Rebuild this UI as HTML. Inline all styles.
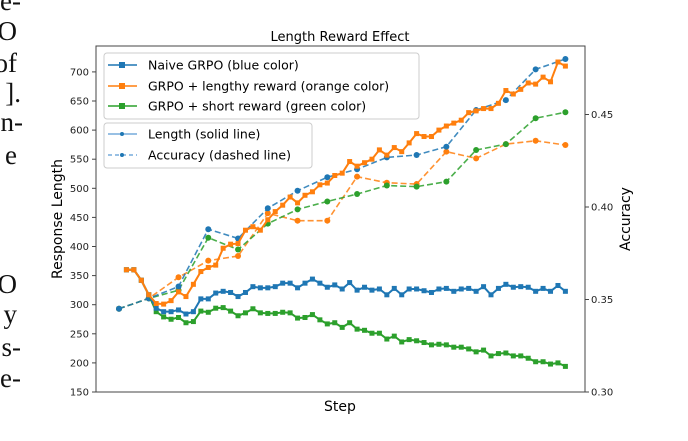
<!DOCTYPE html>
<html><head><meta charset="utf-8"><style>
body{margin:0;background:#fff;}
svg{display:block;font-family:"DejaVu Sans","Liberation Sans",sans-serif;}
</style></head><body>
<svg id="chart" width="688" height="441" viewBox="0 0 688 441" xmlns="http://www.w3.org/2000/svg">
<g font-family="'Liberation Serif',serif" font-size="27" text-anchor="end" fill="#111">
<text x="21" y="10">e-</text>
<text x="17" y="40">O</text>
<text x="17" y="72">of</text>
<text x="21" y="102">].</text>
<text x="23" y="131">n-</text>
<text x="17" y="164">e</text>
<text x="17" y="293">O</text>
<text x="17" y="323">y</text>
<text x="21" y="356">s-</text>
<text x="21" y="387">e-</text>
</g>
<text x="340" y="41" font-size="13" text-anchor="middle" fill="#000">Length Reward Effect</text>
<rect x="96" y="46" width="489" height="346" fill="none" stroke="#444" stroke-width="1"/>
<g id="axes"></g>
<g id="series"></g>
<text x="340" y="411" font-size="14" text-anchor="middle">Step</text>
<text transform="translate(62,219) rotate(-90)" font-size="14" text-anchor="middle">Response Length</text>
<text transform="translate(630,219) rotate(-90)" font-size="14" text-anchor="middle">Accuracy</text>
<g>
<rect x="104" y="53" width="315" height="66" rx="3" fill="#fff" fill-opacity="0.8" stroke="#ccc"/>
<g><line x1="108" y1="65" x2="137" y2="65" stroke="#1f77b4" stroke-width="1.5"/><rect x="119" y="62" width="6" height="6" fill="#1f77b4"/><text x="148" y="69.5" font-size="12.5">Naive GRPO (blue color)</text></g>
<g><line x1="108" y1="86" x2="137" y2="86" stroke="#ff7f0e" stroke-width="1.5"/><rect x="119" y="83" width="6" height="6" fill="#ff7f0e"/><text x="148" y="90.5" font-size="12.5">GRPO + lengthy reward (orange color)</text></g>
<g><line x1="108" y1="106" x2="137" y2="106" stroke="#2ca02c" stroke-width="1.5"/><rect x="119" y="103" width="6" height="6" fill="#2ca02c"/><text x="148" y="110.5" font-size="12.5">GRPO + short reward (green color)</text></g>
</g>
<g>
<rect x="104" y="123" width="208" height="45" rx="3" fill="#fff" fill-opacity="0.8" stroke="#ccc"/>
<g><line x1="108" y1="134" x2="137" y2="134" stroke="#5a9bd4" stroke-width="1.2"/><circle cx="122" cy="134" r="2" fill="#1f77b4"/><text x="148" y="138.5" font-size="12.5">Length (solid line)</text></g>
<g><line x1="108" y1="155" x2="137" y2="155" stroke="#5a9bd4" stroke-width="1.2" stroke-dasharray="4,3"/><circle cx="122" cy="155" r="2" fill="#1f77b4"/><text x="148" y="159.5" font-size="12.5">Accuracy (dashed line)</text></g>
</g>
</svg>
<script>
const lengthTicks=[150,200,250,300,350,400,450,500,550,600,650,700];
const accTicks=[0.30,0.35,0.40,0.45];
const blueLen=[360,360,342,317,294,288,288,291,284,288,310,310,320,323,321,314,321,331,329,329,331,337,337,329,337,344,337,330,334,327,338,325,330,325,327,317,328,317,327,327,324,321,327,328,323,327,328,323,331,317,328,335,330,331,330,323,328,323,333,323];
const orangeLen=[360,360,342,317,302,301,307,322,314,335,357,364,368,397,404,405,428,434,428,446,460,471,485,475,488,494,506,509,522,526,546,538,544,550,566,557,570,563,578,594,589,589,600,607,612,617,630,633,637,637,646,668,662,670,681,679,691,683,717,710];
const greenLen=[360,360,342,317,288,279,275,278,269,271,289,287,294,295,289,281,286,293,286,285,285,287,286,277,278,283,274,267,269,261,269,258,256,251,251,241,246,236,240,238,235,231,232,231,227,227,224,219,222,212,216,217,212,212,208,202,202,198,200,194];
const accSteps=[0,4,8,12,16,20,24,28,32,36,40,44,48,52,56,60];
const blueAcc=[0.345,0.3506,0.357,0.388,0.383,0.3993,0.4088,0.4161,0.4204,0.4268,0.4281,0.4326,0.4524,0.4578,0.4744,0.480];
const orangeAcc=[0.345,0.3506,0.362,0.371,0.3735,0.3966,0.3926,0.3926,0.4164,0.4131,0.4124,0.4299,0.4263,0.434,0.4358,0.4335];
const greenAcc=[0.345,0.3506,0.355,0.3834,0.377,0.391,0.3987,0.403,0.407,0.4116,0.411,0.4137,0.4308,0.434,0.448,0.4512];
const NS="http://www.w3.org/2000/svg";
const xS=s=>119+s*7.44;
const yL=v=>392-(v-150)*29.1/50;
const yR=a=>392-(a-0.30)*92.5/0.05;
const axes=document.getElementById('axes'),ser=document.getElementById('series');
function mk(tag,attrs,parent){const e=document.createElementNS(NS,tag);for(const k in attrs)e.setAttribute(k,attrs[k]);parent.appendChild(e);return e;}
lengthTicks.forEach(v=>{const y=yL(v);
 const t=mk('line',{x1:92,x2:96,y1:y,y2:y,stroke:'#444'},axes);
 
 
 const l=mk('text',{x:89,y:y+3.5,'font-size':10,'text-anchor':'end',fill:'#222'},axes);l.textContent=v;
 
 });
accTicks.forEach(a=>{const y=yR(a);
 const t=mk('line',{x1:585,x2:589,y1:y,y2:y,stroke:'#444'},axes);
 
 
 const l=mk('text',{x:591,y:y+3.5,'font-size':10,fill:'#222'},axes);l.textContent=a.toFixed(2);
 
 });
function lenSeries(vals,color,name){const g=mk('g',{},ser);
 
 
 const pts=vals.map((v,i)=>xS(i+1)+','+yL(v)).join(' ');
 mk('polyline',{points:pts,fill:'none',stroke:color,'stroke-width':2},g);
 vals.forEach((v,i)=>{const r=mk('rect',{x:xS(i+1)-2.5,y:yL(v)-2.5,width:5,height:5,fill:color},g);
  
  });}
function accSeries(vals,color,name){const g=mk('g',{},ser);
 
 
 const pts=vals.map((v,i)=>xS(accSteps[i])+','+yR(v)).join(' ');
 mk('polyline',{points:pts,fill:'none',stroke:color,'stroke-width':1.6,'stroke-dasharray':'6,3','stroke-opacity':0.85},g);
 vals.forEach((v,i)=>{const c=mk('circle',{cx:xS(accSteps[i]),cy:yR(v),r:3,fill:color},g);
  
  });}
accSeries(orangeAcc,'#ff7f0e','orange-accuracy-line');
accSeries(greenAcc,'#2ca02c','green-accuracy-line');
accSeries(blueAcc,'#1f77b4','blue-accuracy-line');
lenSeries(greenLen,'#2ca02c','green-length-line');
lenSeries(blueLen,'#1f77b4','blue-length-line');
lenSeries(orangeLen,'#ff7f0e','orange-length-line');
</script>
</body></html>
